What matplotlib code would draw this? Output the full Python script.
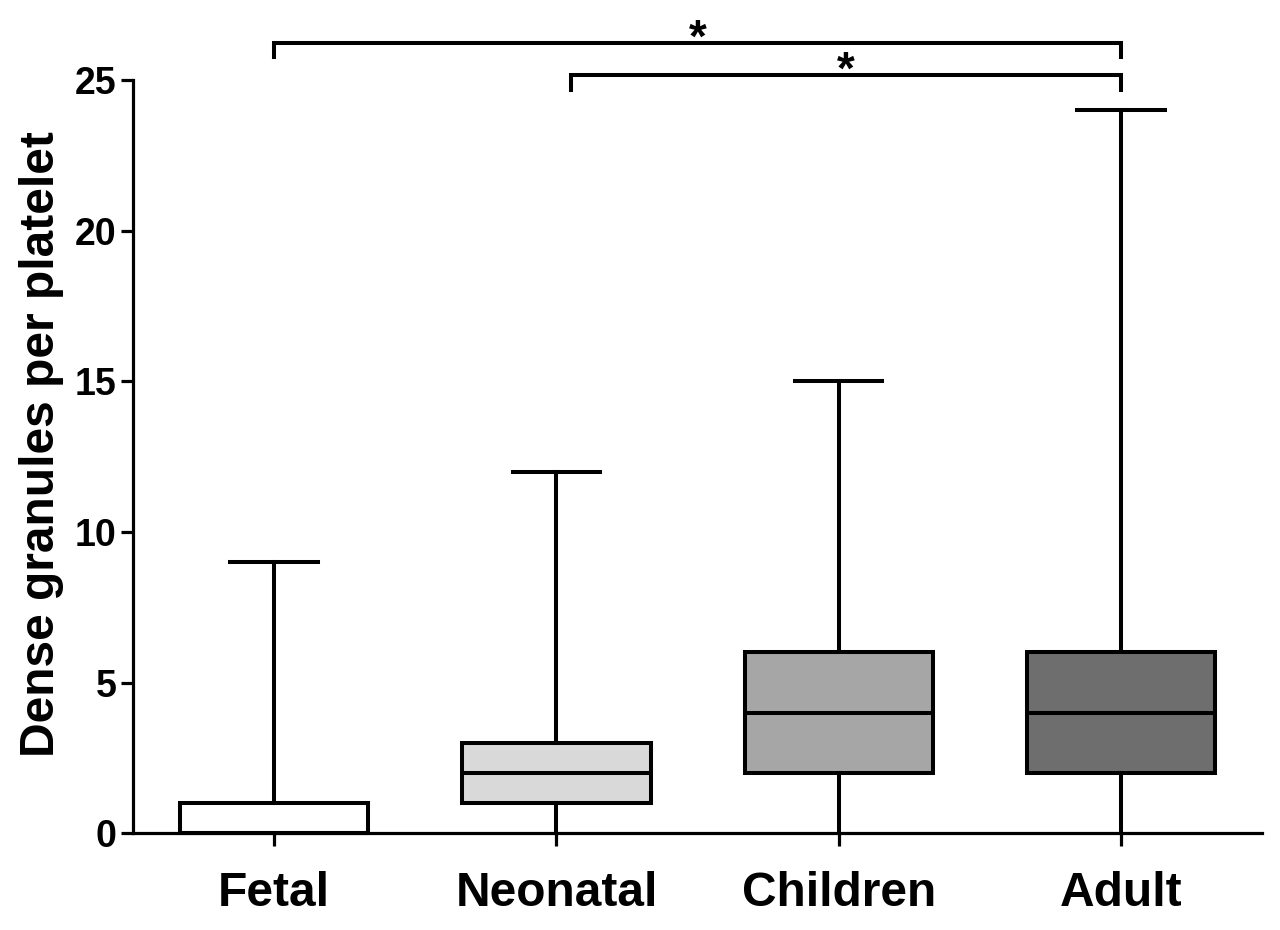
import matplotlib
matplotlib.use("Agg")
import matplotlib.pyplot as plt

categories = ["Fetal", "Neonatal", "Children", "Adult"]
mins = [0, 0, 0, 0]
q1s = [0, 1, 2, 2]
medians = [0, 2, 4, 4]
q3s = [1, 3, 6, 6]
maxs = [9, 12, 15, 24]
fills = ["#ffffff", "#d9d9d9", "#a6a6a6", "#6e6e6e"]
yticks = [0, 5, 10, 15, 20, 25]
ylabel = "Dense granules per platelet"
# significance brackets: (left, right, bracket height, tip height, star)
brackets = [(0.0, 3.0, 26.23, 25.76, "*"), (1.05, 3.0, 25.17, 24.67, "*")]

plt.rcParams['font.family'] = ['Liberation Sans', 'DejaVu Sans']
plt.rcParams['font.weight'] = 'bold'

fig = plt.figure(figsize=(12.8, 9.3), dpi=100)
ax = fig.add_axes([0.104, 0.104, 0.882, 0.810])

stats = []
for i, c in enumerate(categories):
    stats.append(dict(label=c, whislo=mins[i], q1=q1s[i], med=medians[i],
                      q3=q3s[i], whishi=maxs[i], fliers=[]))

lw = 2.9
bp = ax.bxp(stats, positions=range(len(categories)), widths=0.667,
            capwidths=0.31, patch_artist=True, showfliers=False,
            boxprops=dict(linewidth=lw, edgecolor='black'),
            whiskerprops=dict(linewidth=lw, color='black'),
            capprops=dict(linewidth=lw, color='black'),
            medianprops=dict(linewidth=lw, color='black'))
for patch, col in zip(bp['boxes'], fills):
    patch.set_facecolor(col)
    patch.set_zorder(2)
for ln in bp['whiskers'] + bp['caps'] + bp['medians']:
    ln.set_zorder(3)
    ln.set_clip_on(False)
for p in bp['boxes']:
    p.set_clip_on(False)
# lower caps sit on the axis line in the reference and are not visible
for cap in bp['caps'][0::2]:
    cap.set_visible(False)

ax.set_xlim(-0.5, 3.5)
ax.set_ylim(0, 25)
ax.set_yticks(yticks)
ax.set_yticklabels([str(t) for t in yticks], fontsize=27, fontweight='bold')
ax.set_xticks(range(len(categories)))
ax.set_xticklabels(categories, fontsize=34.5, fontweight='bold')
ax.set_ylabel(ylabel, fontsize=34.5, fontweight='bold', labelpad=8)
ax.yaxis.label.set_y(0.517)

for s in ['top', 'right']:
    ax.spines[s].set_visible(False)
for s in ['left', 'bottom']:
    ax.spines[s].set_linewidth(2.3)
ax.tick_params(axis='both', width=2.3, length=9, direction='out')
ax.tick_params(axis='x', pad=18)
ax.tick_params(axis='y', pad=3)

for (x0, x1, yb, yt, star) in brackets:
    ax.plot([x0, x0, x1, x1], [yt, yb, yb, yt], color='black', lw=2.9,
            clip_on=False, solid_joinstyle='miter')
    ax.text((x0 + x1) / 2, yb - 0.62, star, ha='center', va='bottom',
            fontsize=33, fontweight='bold')

fig.savefig("out.png", dpi=100)
